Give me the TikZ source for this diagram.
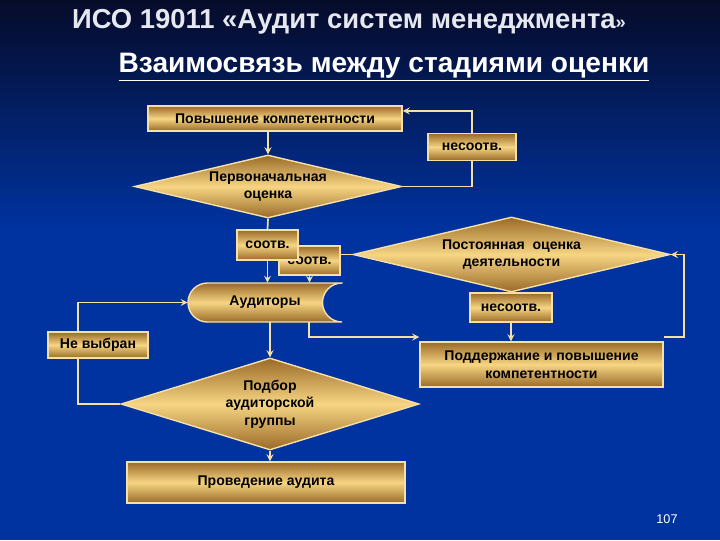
\documentclass[tikz,border=0pt]{standalone}
\usepackage{fontspec}
\setmainfont{Liberation Sans}
\usetikzlibrary{shapes.geometric, arrows, positioning}
\definecolor{gold}{HTML}{F6D583}
\definecolor{golddark}{HTML}{9A6A28}
\definecolor{cream}{HTML}{F6E0A8}
\definecolor{navy}{HTML}{060B2A}
\definecolor{slideblue}{HTML}{0033A0}
\definecolor{titlegray}{HTML}{E6E8F0}
\tikzset{
    stage/.style={rectangle, draw=cream, line width=1pt, top color=golddark, bottom color=golddark, middle color=gold, text=black, align=center, inner sep=1pt, font=\bfseries\fontsize{10}{12.5}\selectfont},
    decision/.style={diamond, draw=cream, line width=1pt, top color=golddark, bottom color=golddark, middle color=gold, text=black, align=center, inner sep=0pt, font=\bfseries\fontsize{10}{12.5}\selectfont},
    arrow/.style={thick,->,>=stealth, line width=1.2pt, draw=cream},
    link/.style={line width=1.2pt, draw=cream}
}

\begin{document}
\begin{tikzpicture}[x=0.025cm, y=0.025cm]

        % Background
        \useasboundingbox (0,0) rectangle (720,-540);
        \fill[slideblue] (0,0) rectangle (720,-540);
        \shade[top color=navy, bottom color=slideblue] (0,0) rectangle (720,-230);

        % Titles
        \node (title) at (349,-22) [text=titlegray, font=\bfseries\fontsize{19.5}{22}\selectfont] {ИСО 19011 «Аудит систем менеджмента{\fontsize{13}{14}\selectfont»}};
        \node (subtitle) at (384,-67) [text=white, font=\bfseries\fontsize{20}{22}\selectfont] {\underline{Взаимосвязь между стадиями оценки}};

        % Nodes
        \node (povysh) at (275,-118.5) [stage, minimum width=6.35cm, minimum height=0.625cm] {Повышение компетентности};

        \node (nes1) at (472,-147) [stage, minimum width=2.2cm, minimum height=0.675cm] {несоотв.};

        \node (diag1) at (268,-186.5) [decision, aspect=4.2, minimum width=6.675cm, minimum height=1.575cm] {Первоначальная\\оценка};

        \node (sootv2) at (309.5,-260.5) [stage, minimum width=1.525cm, minimum height=0.725cm] {соотв.};

        \node (sootv1) at (267.5,-245) [stage, minimum width=1.525cm, minimum height=0.75cm] {соотв.};

        \shadedraw[top color=golddark, bottom color=golddark, middle color=gold, draw=cream, line width=1pt] (342,-283) -- (207.5,-283) arc (90:270:0.4875cm) -- (342,-322) arc (270:90:0.4875cm) -- cycle;
        \node (aud) at (265,-302.5) [minimum width=3.85cm, minimum height=0.975cm, font=\bfseries\fontsize{10}{12.5}\selectfont] {Аудиторы};

        \node (nevyb) at (98,-345) [stage, minimum width=2.5cm, minimum height=0.65cm] {Не выбран};

        \node (diag2) at (511.5,-254.5) [decision, aspect=4.2, minimum width=7.925cm, minimum height=1.875cm] {Постоянная~~оценка\\деятельности};

        \node (nes2) at (511,-307.5) [stage, minimum width=2.05cm, minimum height=0.725cm] {несоотв.};

        \node (podd) at (541.5,-364.5) [stage, minimum width=6.075cm, minimum height=1.125cm] {Поддержание и повышение\\компетентности};

        \node (diag3) at (270,-404) [decision, aspect=3.2, minimum width=7.45cm, minimum height=2.3cm] {Подбор\\аудиторской\\группы};

        \node (prov) at (266,-482.5) [stage, minimum width=6.95cm, minimum height=1.025cm] {Проведение аудита};

        \node (page) at (667,-519) [text=white, font=\fontsize{9}{10}\selectfont] {107};

        % Arrows
        \draw[arrow] (povysh.south -| diag1.north) -- (diag1.north);
        \draw[link] (diag1.east) -| (nes1.south);
        \draw[arrow] (nes1.north) |- ([yshift=-4pt]povysh.north east);
        \draw[link] (diag1.south) -- (sootv1.north);
        \draw[arrow] (sootv1.south) -- (sootv1.south |- aud.north);
        \draw[arrow] (sootv2.south) -- (sootv2.south |- aud.north);
        \draw[link] (diag2.west) -- (diag2.west -| sootv2.east);
        \draw[arrow] ([xshift=-0.5cm]nevyb.north) |- (aud.west);
        \draw[link] (diag3.west) -| ([xshift=-0.5cm]nevyb.south);
        \draw[arrow] (aud.south -| diag3.north) -- (diag3.north);
        \draw[arrow] ([xshift=1.1cm]aud.south) |- ([yshift=3pt]podd.north west);
        \draw[link] (diag2.south) -- (nes2.north);
        \draw[arrow] (nes2.south) -- (nes2.south |- podd.north);
        \draw[arrow] ([yshift=3pt]podd.north east) -- ++(0.5cm,0) |- (diag2.east);
        \draw[arrow] (diag3.south) -- (diag3.south |- prov.north);

    \end{tikzpicture}
\end{document}
